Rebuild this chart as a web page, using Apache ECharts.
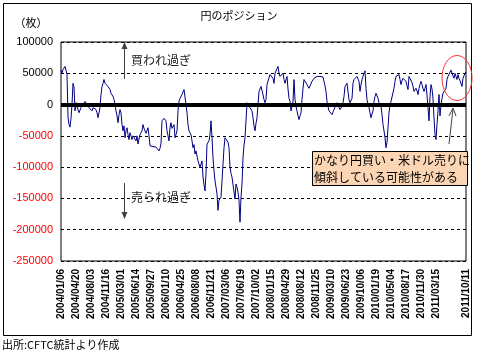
<!DOCTYPE html>
<html>
<head>
<meta charset="utf-8">
<script src="https://cdn.jsdelivr.net/npm/echarts@6/dist/echarts.min.js"></script>
<style>
  html, body { margin: 0; padding: 0; background: #fff; }
  #chart { width: 477px; height: 353px; }
</style>
</head>
<body>
<div id="chart"></div>
<script>
// weekly CFTC yen net positions, 2004/01/06 .. 2011/10/11
const startDate = [2004, 1, 6];
const positions = [
  55000, 50000, 56000, 59000, 61000, 55000, 48000, -20000, -32000, -36000,
  -22000, 0, 34000, 28000, -10000, 3000, 0, -8000, -13000, -12000,
  -5000, -3000, 0, 3000, 5000, 3000, 0, -3000, -5000, -3000,
  -8000, -10000, -5000, -3000, -5000, -8000, -13000, -21000, -18000, -5000,
  16000, 29000, 34000, 40000, 34000, 37000, 34000, 29000, 31000, 24000,
  18000, 19000, 13000, 8000, 0, -10000, -18000, -29000, -16000, -8000,
  -13000, -32000, -42000, -34000, -53000, -42000, -37000, -48000, -56000, -45000,
  -50000, -56000, -50000, -48000, -53000, -58000, -50000, -63000, -55000, -48000,
  -46000, -42000, -32000, -38000, -40000, -46000, -48000, -37000, -50000, -66000,
  -67000, -67000, -67000, -67000, -67000, -68000, -67000, -68000, -74000, -70000,
  -62000, -26000, -24000, -22000, -21000, -26000, -42000, -50000, -58000, -37000,
  -29000, -38000, -40000, -32000, -53000, -48000, -42000, -10000, 5000, 10000,
  13000, 16000, 20000, 24000, 21000, 0, -13000, -32000, -42000, -45000,
  -48000, -58000, -69000, -64000, -79000, -74000, -74000, -90000, -95000, -100000,
  -103000, -90000, -116000, -128000, -138000, -110000, -63000, -60000, -58000, -48000,
  -26000, -53000, -85000, -106000, -122000, -132000, -143000, -169000, -153000, -150000,
  -148000, -122000, -95000, -69000, -53000, -52000, -53000, -60000, -69000, -100000,
  -110000, -116000, -113000, -115000, -151000, -127000, -132000, -140000, -153000, -188000,
  -148000, -127000, -85000, -65000, -53000, -26000, 3000, 4000, 5000, -5000,
  -3000, -10000, -21000, -34000, -42000, -30000, -21000, 0, 21000, 25000,
  29000, 29000, 16000, 8000, 3000, 8000, 32000, 33000, 34000, 48000,
  50000, 46000, 42000, 34000, 50000, 52000, 53000, 61000, 50000, 45000,
  42000, 48000, 50000, 40000, 34000, 32000, 45000, 25000, 10000, 5000,
  -10000, -3000, 5000, 40000, 8000, -3000, -10000, -18000, -24000, -18000,
  -13000, 8000, 26000, 40000, 40000, 38000, 32000, 29000, 26000, 25000,
  24000, 37000, 40000, 42000, 40000, 40000, 45000, 44000, 42000, 45000,
  48000, 48000, 44000, 37000, 30000, 21000, 5000, -3000, -10000, -8000,
  -8000, -16000, -12000, -8000, -10000, -10000, 3000, 4000, 5000, -8000,
  -10000, -3000, 3000, 13000, 29000, 32000, 34000, 21000, 8000, 3000,
  0, 10000, 34000, 40000, 42000, 37000, 45000, 42000, 37000, 21000,
  32000, 40000, 45000, 50000, 54000, 26000, 8000, 0, -5000, -13000,
  -21000, -15000, -10000, 5000, 13000, 18000, 21000, 10000, 3000, 0,
  -3000, -16000, -32000, -42000, -53000, -69000, -60000, -37000, -13000, 0,
  5000, 6000, 8000, 26000, 37000, 45000, 44000, 42000, 48000, 40000,
  32000, 38000, 42000, 45000, 40000, 37000, 30000, 24000, 45000, 44000,
  42000, 35000, 29000, 21000, 24000, 26000, 22000, 16000, 26000, 32000,
  37000, 32000, 26000, 21000, 26000, 32000, 15000, -5000, -26000, 13000,
  32000, 25000, 10000, -21000, -48000, -56000, -32000, -10000, 16000, -18000,
  0, 10000, 18000, 17000, 16000, 26000, 40000, 45000, 48000, 45000,
  55000, 50000, 48000, 42000, 50000, 45000, 40000, 48000, 42000, 38000,
  37000, 29000, 42000, 45000, 50000, 52000
];
const tickLabels = [
  '2004/01/06', '2004/04/20', '2004/08/03', '2004/11/16', '2005/03/01', '2005/06/14',
  '2005/09/27', '2006/01/10', '2006/04/25', '2006/08/08', '2006/11/21', '2007/03/06',
  '2007/06/19', '2007/10/02', '2008/01/15', '2008/04/29', '2008/08/12', '2008/11/25',
  '2009/03/10', '2009/06/23', '2009/10/06', '2010/01/19', '2010/05/04', '2010/08/17',
  '2010/11/30', '2011/03/15', '2011/10/11'
];

const pad = n => (n < 10 ? '0' : '') + n;
const dates = positions.map((v, i) => {
  const d = new Date(Date.UTC(startDate[0], startDate[1] - 1, startDate[2] + 7 * i));
  return d.getUTCFullYear() + '/' + pad(d.getUTCMonth() + 1) + '/' + pad(d.getUTCDate());
});
const shown = new Set(tickLabels);

const jp = '"Noto Sans CJK JP", sans-serif';
const chart = echarts.init(document.getElementById('chart'));

chart.setOption({
  animation: false,
  backgroundColor: '#fff',
  grid: {
    left: 61, right: 11, top: 42, bottom: 92,
    show: true, borderColor: '#000', borderWidth: 1
  },
  xAxis: {
    type: 'category',
    data: dates,
    boundaryGap: false,
    axisLine: { show: false },
    axisTick: { show: false },
    splitLine: { show: false },
    axisLabel: {
      rotate: 90,
      margin: 8,
      fontSize: 10,
      fontWeight: 'bold',
      fontFamily: 'Liberation Sans',
      color: '#000',
      interval: (i, v) => shown.has(v)
    }
  },
  yAxis: {
    type: 'value',
    min: -250000,
    max: 100000,
    interval: 50000,
    axisLine: { show: false },
    axisTick: { show: false },
    axisLabel: {
      margin: 8,
      fontSize: 11,
      fontFamily: 'Liberation Sans',
      formatter: v => String(v),
      color: v => (v < 0 ? '#ff0000' : '#000')
    },
    splitLine: { lineStyle: { color: '#000', type: [3, 3], width: 1 } }
  },
  series: [{
    type: 'line',
    data: positions,
    showSymbol: false,
    lineStyle: { color: '#000080', width: 1 },
    markLine: {
      silent: true,
      symbol: 'none',
      label: { show: false },
      lineStyle: { color: '#000', width: 4, type: 'solid' },
      data: [{ yAxis: 0 }]
    }
  }],
  graphic: [
    { type: 'rect', shape: { x: 3.5, y: 3.5, width: 468, height: 332 },
      style: { fill: 'none', stroke: '#000', lineWidth: 1 }, z: -1 },
    { type: 'text', x: 239, y: 16,
      style: { text: '円のポジション', font: '11px ' + jp, fill: '#000', align: 'center', verticalAlign: 'middle' } },
    { type: 'text', x: 31, y: 23,
      style: { text: '（枚）', font: '11px ' + jp, fill: '#000', align: 'center', verticalAlign: 'middle' } },
    // overbought arrow
    { type: 'line', shape: { x1: 124.5, y1: 79, x2: 124.5, y2: 48 }, style: { stroke: '#404040', lineWidth: 1 } },
    { type: 'polygon', shape: { points: [[124.5, 42], [121.5, 49], [127.5, 49]] }, style: { fill: '#404040' } },
    { type: 'text', x: 131, y: 60,
      style: { text: '買われ過ぎ', font: '12px ' + jp, fill: '#222', verticalAlign: 'middle' } },
    // oversold arrow
    { type: 'line', shape: { x1: 124.5, y1: 183, x2: 124.5, y2: 213 }, style: { stroke: '#404040', lineWidth: 1 } },
    { type: 'polygon', shape: { points: [[124.5, 219], [121.5, 212], [127.5, 212]] }, style: { fill: '#404040' } },
    { type: 'text', x: 131, y: 197,
      style: { text: '売られ過ぎ', font: '12px ' + jp, fill: '#222', verticalAlign: 'middle' } },
    // highlight ellipse
    { type: 'ellipse', shape: { cx: 457, cy: 78, rx: 15, ry: 22.5 },
      style: { fill: 'none', stroke: '#ff3333', lineWidth: 1 }, z: 10 },
    // pointer arrow
    { type: 'line', shape: { x1: 449, y1: 144, x2: 453, y2: 109 }, style: { stroke: '#404040', lineWidth: 1 }, z: 10 },
    { type: 'polyline', shape: { points: [[449, 116], [453, 108], [456, 116]] }, style: { stroke: '#404040', lineWidth: 1, fill: 'none' }, z: 10 },
    // callout
    { type: 'rect', shape: { x: 312.5, y: 151.5, width: 155, height: 34 },
      style: { fill: '#fcd5b4', stroke: '#000', lineWidth: 1 }, z: 10 },
    { type: 'text', x: 314, y: 160, z: 11,
      style: { text: 'かなり円買い・米ドル売りに', font: '12px ' + jp, fill: '#000', verticalAlign: 'middle' } },
    { type: 'text', x: 314, y: 177, z: 11,
      style: { text: '傾斜している可能性がある', font: '12px ' + jp, fill: '#000', verticalAlign: 'middle' } },
    // source
    { type: 'text', x: 2, y: 345,
      style: { text: '出所:CFTC統計より作成', font: '11px ' + jp, fill: '#000', verticalAlign: 'middle' } }
  ]
});
</script>
</body>
</html>
